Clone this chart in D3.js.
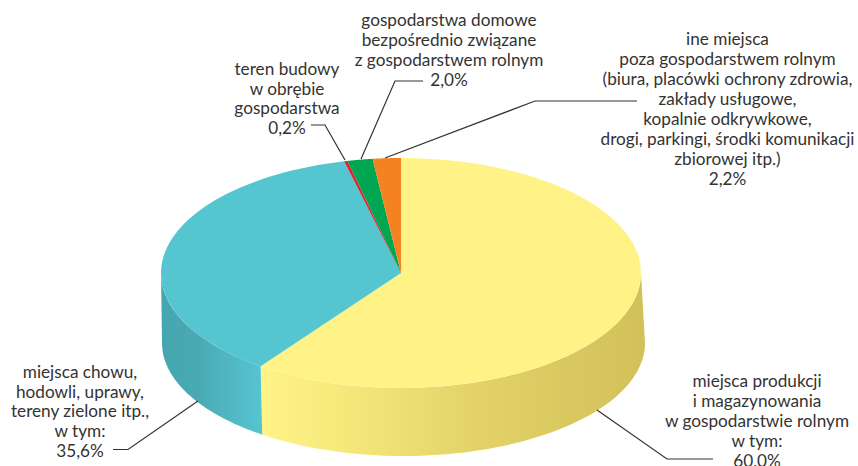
<!DOCTYPE html>
<html>
<head>
<meta charset="utf-8">
<script src="https://cdn.jsdelivr.net/npm/d3@7"></script>
<style>
  html, body { margin: 0; padding: 0; background: #fff; overflow: hidden; }
  text { font-family: Lato, "Open Sans", sans-serif; font-size: 17.2px; fill: #333; text-anchor: middle; }
</style>
</head>
<body>
<div id="chart"></div>
<script>
var categories = [
    "miejsca produkcji i magazynowania w gospodarstwie rolnym",
    "miejsca chowu, hodowli, uprawy, tereny zielone itp.",
    "teren budowy w obrębie gospodarstwa",
    "gospodarstwa domowe bezpośrednio związane z gospodarstwem rolnym",
    "ine miejsca poza gospodarstwem rolnym"
];
var shares = [60.0, 35.6, 0.2, 2.0, 2.2];

var labelLines = [
    ["miejsca produkcji", "i magazynowania", "w gospodarstwie rolnym", "w tym:", "60,0%"],
    ["miejsca chowu,", "hodowli, uprawy,", "tereny zielone itp.,", "w tym:", "35,6%"],
    ["teren budowy", "w obrębie", "gospodarstwa", "0,2%"],
    ["gospodarstwa domowe", "bezpośrednio związane", "z gospodarstwem rolnym", "2,0%"],
    ["ine miejsca", "poza gospodarstwem rolnym", "(biura, placówki ochrony zdrowia,", "zakłady usługowe,", "kopalnie odkrywkowe,", "drogi, parkingi, środki komunikacji", "zbiorowej itp.)", "2,2%"]
];

// layout
var svgWidth = 858;
var svgHeight = 466;
var topFace = { cx: 401, cy: 273, rx: 240, ry: 115 };
var bottomFace = { cx: 403.5, cy: 343, rx: 241.5, ry: 113 };
var topColors = ["#fff387", "#55c5d0", "#e5202e", "#00a651", "#f58220"];

var labelPos = [
    { x: 757, y: 387, step: 20 },
    { x: 80, y: 378, step: 19.7 },
    { x: 287, y: 75, step: 19.5 },
    { x: 449, y: 26, step: 20 },
    { x: 727.5, y: 45, step: 20 }
];
var leaders = [
    [[597, 410], [667, 459], [713, 459]],
    [[198, 401], [128, 449.5], [113, 449.5]],
    [[345, 160], [325, 125], [311, 125]],
    [[361, 159], [395, 81], [423, 81]],
    [[385, 158], [535, 101], [637, 101]]
];

var svg = d3.select("#chart")
  .append("svg")
    .attr("width", svgWidth)
    .attr("height", svgHeight);

// the picture squeezes the slices at the back of the pie a little
var rad = Math.PI / 180;
var warp = d3.scaleLinear()
    .domain([0, 216 * rad, 344.16 * rad, 344.88 * rad, 352.08 * rad, 360 * rad])
    .range([0, 215.8 * rad, 346.3 * rad, 347.1 * rad, 353.2 * rad, 360 * rad]);

var slices = d3.pie().sort(null).value(d => d)(shares).map(d => ({
    start: warp(d.startAngle),
    end: warp(d.endAngle)
}));

var point = (face, t) => [face.cx + face.rx * Math.sin(t), face.cy - face.ry * Math.cos(t)];
var line = d3.line();
var sample = (a, b) => d3.range(0, 61).map(i => a + (b - a) * i / 60);

// side gradients
var defs = svg.append("defs");
function addGradient(id, stops) {
    var g = defs.append("linearGradient")
        .attr("id", id)
        .attr("gradientUnits", "userSpaceOnUse")
        .attr("x1", stops[0][0]).attr("x2", stops[stops.length - 1][0])
        .attr("y1", 0).attr("y2", 0);
    stops.forEach(s => {
        g.append("stop")
            .attr("offset", (s[0] - stops[0][0]) / (stops[stops.length - 1][0] - stops[0][0]))
            .attr("stop-color", s[1]);
    });
}
addGradient("sideYellow", [[261, "#fff387"], [340, "#f6e97c"], [480, "#e2d268"], [645, "#d2c058"]]);
addGradient("sideBlue", [[161, "#46a6b0"], [200, "#4aaab3"], [240, "#52bcc7"], [263, "#56c5d0"]]);

// sides: only the front half of the rim is visible
function sidePath(a, b) {
    var angles = sample(a, b);
    var upper = angles.map(t => point(topFace, t));
    var lower = angles.slice().reverse().map(t => point(bottomFace, t));
    return line(upper.concat(lower)) + "Z";
}
svg.append("path")
    .attr("d", sidePath(Math.PI / 2, slices[0].end))
    .attr("fill", "url(#sideYellow)");
svg.append("path")
    .attr("d", sidePath(slices[1].start, Math.PI * 1.5))
    .attr("fill", "url(#sideBlue)");

// top face
svg.selectAll(".slice").data(slices)
  .enter().append("path")
    .attr("class", "slice")
    .attr("fill", (d, i) => topColors[i])
    .attr("d", d => line([[topFace.cx, topFace.cy]].concat(sample(d.start, d.end).map(t => point(topFace, t)))) + "Z");

// leader lines
svg.selectAll(".leader").data(leaders)
  .enter().append("path")
    .attr("class", "leader")
    .attr("fill", "none")
    .attr("stroke", "#333")
    .attr("stroke-width", 1.2)
    .attr("d", d => line(d));

// labels
labelLines.forEach((lines, i) => {
    var pos = labelPos[i];
    var t = svg.append("text").attr("data-category", categories[i]);
    lines.forEach((txt, j) => {
        t.append("tspan")
            .attr("x", pos.x)
            .attr("y", pos.y + j * pos.step)
            .text(txt);
    });
});
</script>
</body>
</html>
